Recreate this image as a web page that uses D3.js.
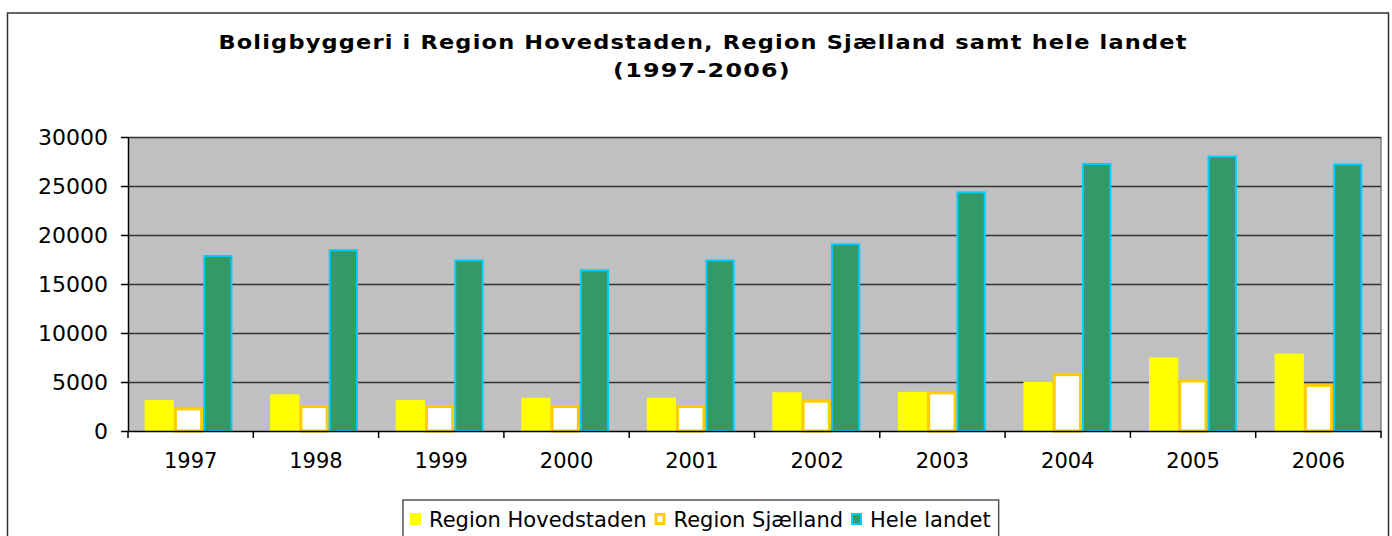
<html>
    <head>
        <title>Boligbyggeri</title>
        <script src="https://d3js.org/d3.v7.min.js"></script>
    </head>

    <style>
        body {
        margin: 0;
        background: #fff;
        }

        svg {
        width: 1392px;
        height: 536px;
        display: block;
        }

        text {
        font-family: Verdana, 'DejaVu Sans', sans-serif;
        fill: #000;
        }

        text.title {
        font-size: 19px;
        font-weight: bold;
        }

        .yaxis text {
        font-size: 22px;
        }

        .xaxis text {
        font-size: 21px;
        }

        .axis path, .axis line {
        stroke: #000;
        stroke-width: 1.5;
        }

        .grid line {
        stroke: #333;
        stroke-width: 1.3;
        }

        .grid path {
        stroke-width: 0;
        }

        text.legend {
        font-size: 21px;
        }
    </style>

    <body>
        <svg></svg>

    <script>
        const years = ['1997', '1998', '1999', '2000', '2001', '2002', '2003', '2004', '2005', '2006'];
        const hovedstaden = [3150, 3750, 3150, 3400, 3400, 3950, 4000, 5050, 7500, 7900];
        const sjaelland = [2250, 2500, 2500, 2500, 2500, 3050, 3900, 5750, 5100, 4650];
        const heleLandet = [17850, 18450, 17400, 16400, 17400, 19050, 24350, 27250, 28000, 27200];
        const seriesNames = ['Region Hovedstaden', 'Region Sjælland', 'Hele landet'];
        const yTicks = [0, 5000, 10000, 15000, 20000, 25000, 30000];

        const fills = ['#FFFF00', '#FFFFFF', '#339966'];
        const strokes = ['none', '#FFCC00', '#00CCFF'];
        const strokeW = [0, 3, 2];

        const rows = years.map((y, i) => ({
            year: y,
            values: [hovedstaden[i], sjaelland[i], heleLandet[i]]
        }));

        const svg = d3.select('svg');

        const plotLeft = 128, plotRight = 1381, plotTop = 137, plotBottom = 431;

        // outer frame
        svg.append('rect')
        .attr('x', 7.5)
        .attr('y', 13)
        .attr('width', 1381)
        .attr('height', 540)
        .attr('fill', 'none')
        .attr('stroke', '#333')
        .attr('stroke-width', 1.5);

        // title, stretched horizontally to the width of the original
        const titleLines = [
            {text: 'Boligbyggeri i Region Hovedstaden, Region Sjælland samt hele landet', cx: 703, y: 49, w: 970},
            {text: '(1997-2006)', cx: 702, y: 77, w: 178}
        ];
        titleLines.forEach((t) => {
            const g = svg.append('g');
            const el = g.append('text')
            .attr('class', 'title')
            .attr('x', 0)
            .attr('y', 0)
            .attr('text-anchor', 'middle')
            .attr('letter-spacing', 1)
            .text(t.text);
            const w = el.node().getComputedTextLength();
            g.attr('transform', `translate(${t.cx}, ${t.y}) scale(${t.w / w}, 1)`);
        });

        const xScale = d3.scaleBand()
        .range([plotLeft, plotRight])
        .domain(years)
        .paddingInner(0.3)
        .paddingOuter(0.14);

        const xCat = d3.scaleBand()
        .range([plotLeft, plotRight])
        .domain(years);

        const xSub = d3.scaleBand()
        .range([0, xScale.bandwidth()])
        .domain(d3.range(3));

        const yScale = d3.scaleLinear()
        .range([plotBottom, plotTop])
        .domain([0, 30000]);

        // plot area
        svg.append('rect')
        .attr('x', plotLeft)
        .attr('y', plotTop)
        .attr('width', plotRight - plotLeft)
        .attr('height', plotBottom - plotTop)
        .attr('fill', '#C0C0C0');

        svg.append('line')
        .attr('x1', plotRight).attr('x2', plotRight)
        .attr('y1', plotTop).attr('y2', plotBottom)
        .attr('stroke', '#808080')
        .attr('stroke-width', 1.5);

        svg.append('g')
        .attr('class', 'grid')
        .attr('transform', `translate(${plotLeft}, 0)`)
        .call(d3.axisLeft(yScale)
            .tickValues(yTicks.slice(1))
            .tickSize(-(plotRight - plotLeft))
            .tickFormat('')
        );

        const barGroups = svg.selectAll('.grp')
        .data(rows)
        .enter()
        .append('g')
        .attr('class', 'grp')
        .attr('transform', (d) => `translate(${xScale(d.year) - 1}, 0)`);

        barGroups.selectAll('rect')
        .data((d) => d.values)
        .enter()
        .append('rect')
        .attr('x', (v, i) => xSub(i) + strokeW[i] / 2)
        .attr('y', (v) => yScale(v))
        .attr('width', (v, i) => xSub.bandwidth() - strokeW[i])
        .attr('height', (v) => plotBottom - yScale(v))
        .attr('fill', (v, i) => fills[i])
        .attr('stroke', (v, i) => strokes[i])
        .attr('stroke-width', (v, i) => strokeW[i]);

        // axes
        svg.append('g')
        .attr('class', 'axis yaxis')
        .attr('transform', `translate(${plotLeft}, 0)`)
        .call(d3.axisLeft(yScale)
            .tickValues(yTicks)
            .tickFormat(d3.format('d'))
            .tickSizeInner(7)
            .tickSizeOuter(0)
            .tickPadding(13)
        );

        const xAxis = svg.append('g')
        .attr('class', 'axis xaxis')
        .attr('transform', `translate(0, ${plotBottom})`)
        .call(d3.axisBottom(xCat)
            .tickSizeInner(0)
            .tickSizeOuter(0)
            .tickPadding(22)
        );
        xAxis.selectAll('.tick text').attr('dy', '0.71em');

        // category separators on x axis
        svg.append('g')
        .selectAll('line')
        .data(years.concat(['end']))
        .enter()
        .append('line')
        .attr('x1', (d, i) => i < years.length ? xCat(d) : plotRight)
        .attr('x2', (d, i) => i < years.length ? xCat(d) : plotRight)
        .attr('y1', plotBottom)
        .attr('y2', plotBottom + 7)
        .attr('stroke', '#000')
        .attr('stroke-width', 1.5);

        // legend
        const legend = svg.append('g');
        const legendBox = legend.append('rect')
        .attr('x', 403)
        .attr('y', 500)
        .attr('height', 50)
        .attr('fill', '#fff')
        .attr('stroke', '#555')
        .attr('stroke-width', 1.5);

        let lx = 410;
        seriesNames.forEach((name, i) => {
            legend.append('rect')
            .attr('x', lx + strokeW[i] / 2)
            .attr('y', 513 + strokeW[i] / 2)
            .attr('width', 11 - strokeW[i])
            .attr('height', 12 - strokeW[i])
            .attr('fill', fills[i])
            .attr('stroke', strokes[i])
            .attr('stroke-width', strokeW[i]);

            const t = legend.append('text')
            .attr('class', 'legend')
            .attr('x', lx + 19)
            .attr('y', 527)
            .text(name);
            lx += 19 + t.node().getComputedTextLength() + 8;
        });
        legendBox.attr('width', lx - 403);
    </script>
    </body>
</html>
